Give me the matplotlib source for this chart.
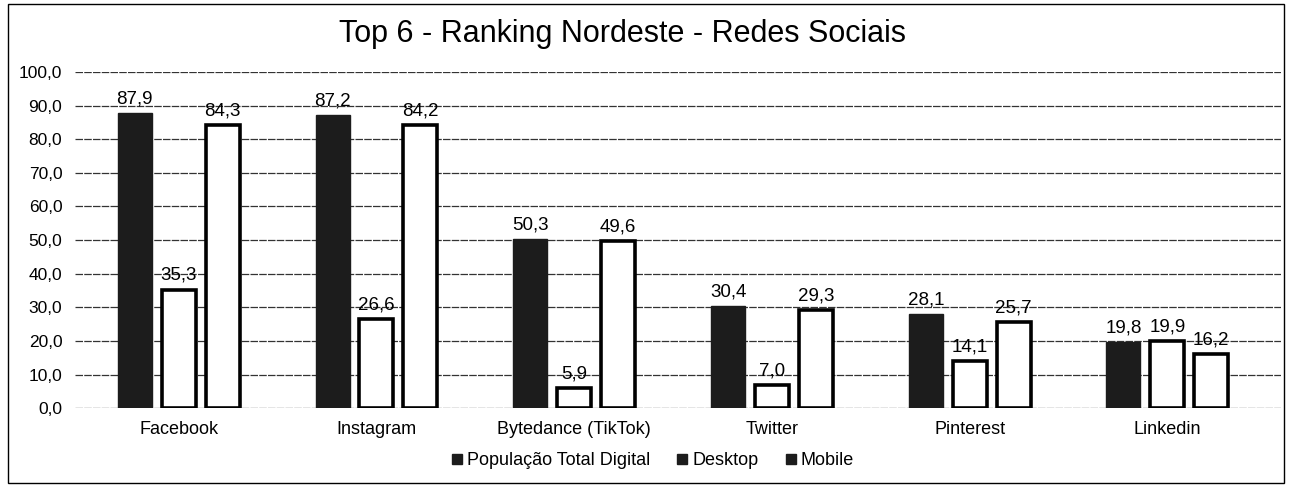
import matplotlib.pyplot as plt
import numpy as np
from matplotlib.patches import Rectangle
from matplotlib.lines import Line2D

plt.rcParams['font.family'] = ['Liberation Sans', 'DejaVu Sans']

# dados / data
redes = ['Facebook', 'Instagram', 'Bytedance (TikTok)', 'Twitter', 'Pinterest', 'Linkedin']
populacao = [87.9, 87.2, 50.3, 30.4, 28.1, 19.8]
desktop = [35.3, 26.6, 5.9, 7.0, 14.1, 19.9]
mobile = [84.3, 84.2, 49.6, 29.3, 25.7, 16.2]
series = ['População Total Digital', 'Desktop', 'Mobile']
yticks = np.arange(0, 101, 10)

fig = plt.figure(figsize=(12.89, 4.90), dpi=100)
ax = fig.add_axes([0.058, 0.167, 0.936, 0.686])

x = np.arange(len(redes))
w = 0.172
step = 0.222

b1 = ax.bar(x - step, populacao, w, color='#1c1c1c', edgecolor='#1c1c1c', zorder=3)
b2 = ax.bar(x, desktop, w, color='white', edgecolor='black', linewidth=2.6, zorder=3)
b3 = ax.bar(x + step, mobile, w, color='white', edgecolor='black', linewidth=2.6, zorder=3)

for bars in (b1, b2, b3):
    for b in bars:
        h = b.get_height()
        ax.annotate(f'{h:.1f}'.replace('.', ','), (b.get_x() + b.get_width() / 2, h),
                    xytext=(0, 4), textcoords='offset points', ha='center', va='bottom',
                    fontsize=13.5, color='black', zorder=4)

ax.set_xlim(-0.526, 5.576)
ax.set_ylim(0, 100)
ax.set_yticks(yticks)
ax.set_yticklabels([f'{v:.1f}'.replace('.', ',') for v in yticks], fontsize=12.5)
ax.set_xticks(x)
ax.set_xticklabels(redes, fontsize=13)
ax.tick_params(length=0)
ax.tick_params(axis='x', pad=9)
ax.tick_params(axis='y', pad=9)
ax.grid(axis='y', color='#333333', linewidth=0.9, linestyle=(0, (6, 1)), zorder=0)
for s in ax.spines.values():
    s.set_visible(False)

fig.text(0.483, 0.93, 'Top 6 - Ranking Nordeste - Redes Sociais', ha='center', va='center',
         fontsize=22)

handles = [Line2D([], [], marker='s', linestyle='none', color='#1c1c1c', markersize=7)
           for _ in series]
fig.legend(handles, series, loc='center', bbox_to_anchor=(0.505, 0.06), ncol=3,
           frameon=False, fontsize=13, handletextpad=0.05, columnspacing=1.3,
           handlelength=1.0)

fig.patches.append(Rectangle((0.006, 0.014), 0.99, 0.978, transform=fig.transFigure,
                             fill=False, edgecolor='black', linewidth=1.0))

plt.savefig('out.png', dpi=100)
